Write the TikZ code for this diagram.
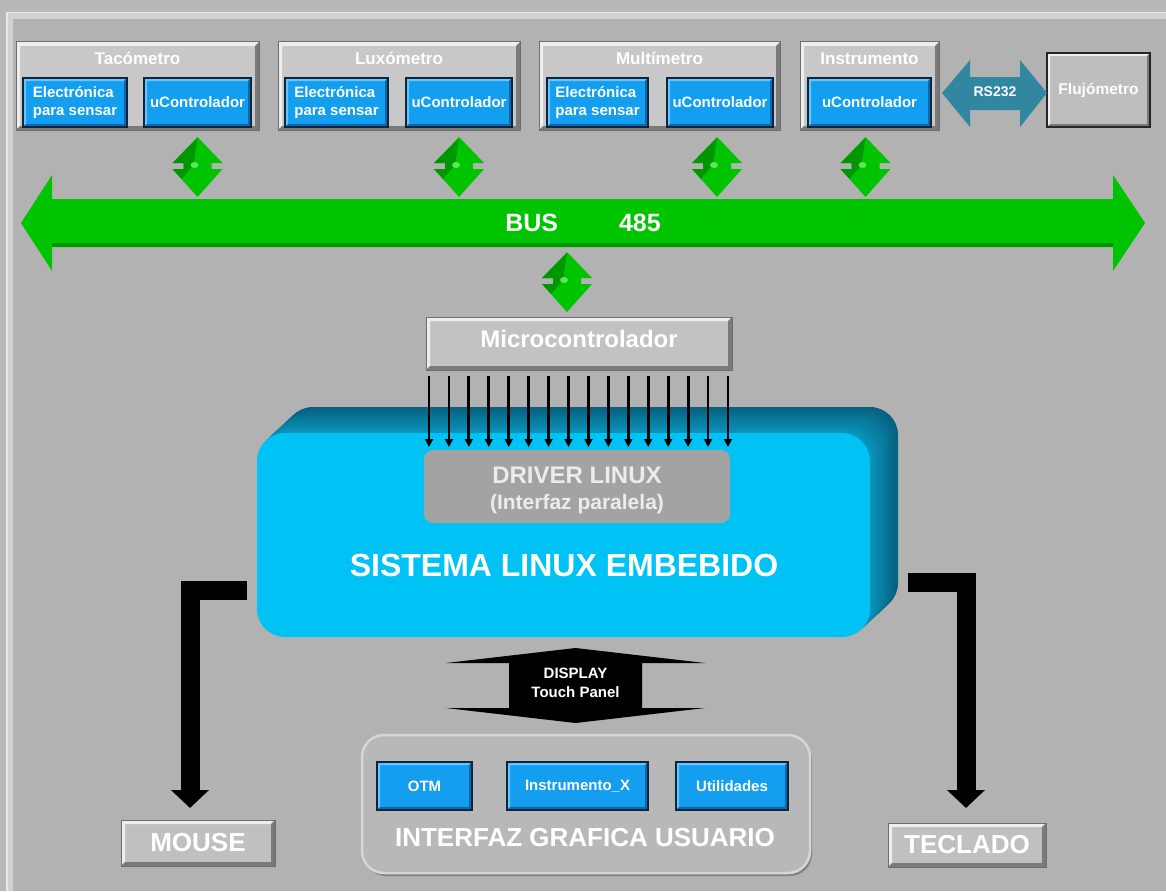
\documentclass[tikz,border=0pt]{standalone}
\usepackage{fontspec}
\setmainfont{Liberation Sans}
\usetikzlibrary{arrows.meta,calc}

\definecolor{outerbg}{RGB}{184,184,184}
\definecolor{bg}{RGB}{178,178,178}
\definecolor{framelt}{RGB}{210,210,210}
\definecolor{framehi}{RGB}{232,232,232}
\definecolor{panel}{RGB}{200,200,200}
\definecolor{panellt}{RGB}{238,238,238}
\definecolor{paneldk}{RGB}{122,122,122}
\definecolor{panelline}{RGB}{110,110,110}
\definecolor{blu}{RGB}{20,158,240}
\definecolor{blult}{RGB}{100,196,255}
\definecolor{bludk}{RGB}{8,104,180}
\definecolor{bluedge}{RGB}{16,36,56}
\definecolor{grn}{RGB}{0,196,0}
\definecolor{grndk}{RGB}{0,150,0}
\definecolor{grnlt}{RGB}{90,230,90}
\definecolor{rsteal}{RGB}{50,135,160}
\definecolor{cyanface}{RGB}{0,194,244}
\definecolor{extrA}{RGB}{6,96,126}
\definecolor{extrB}{RGB}{10,150,190}
\definecolor{drvgray}{RGB}{163,163,163}
\definecolor{drvtext}{RGB}{236,236,236}
\definecolor{guifill}{RGB}{184,184,184}
\definecolor{guiedge}{RGB}{214,214,214}
\definecolor{guishadow}{RGB}{128,128,128}

% raised frame: light band top/left, dark band bottom/right, then outline
\newcommand\bevelframe[5]{%
  \fill[#3] (#1.north west) -- (#1.north east) -- ([shift={(-#2,#2)}]#1.north east)
    -- ([shift={(#2,#2)}]#1.north west) -- ([shift={(#2,-#2)}]#1.south west) -- (#1.south west) -- cycle;
  \fill[#4] (#1.south east) -- (#1.south west) -- ([shift={(#2,-#2)}]#1.south west)
    -- ([shift={(-#2,-#2)}]#1.south east) -- ([shift={(-#2,#2)}]#1.north east) -- (#1.north east) -- cycle;
  \draw[#5] (#1.north west) rectangle (#1.south east);
}
\newcommand\bluebevel[1]{\bevelframe{#1}{3}{blult}{bludk}{draw=bluedge, line width=1.8pt}}
\newcommand\greybevel[1]{\bevelframe{#1}{4}{panellt}{paneldk}{draw=panelline, line width=1pt}}

\tikzset{
  panelbox/.style={fill=panel, inner sep=0pt, outer sep=0pt, anchor=north west},
  bluebox/.style={fill=blu, inner sep=0pt, outer sep=0pt, anchor=north west, text=white,
    font=\bfseries\fontsize{15}{17.5}\selectfont, align=center},
  ttl/.style={text=white, inner sep=0pt, font=\bfseries\fontsize{17}{20}\selectfont},
  txt/.style={text=white, inner sep=0pt, font=\bfseries\fontsize{#1}{#1}\selectfont},
  pin/.style={line width=2.8pt, -{Triangle[width=8pt,length=8pt]}, shorten <=6pt, shorten >=3pt},
  lconn/.style={line width=19pt, line join=miter, -{Triangle[width=37pt,length=18pt]}},
  gdbl/.pic={
    \fill[grn] (0,0) -- (25,26) -- (14,26) -- (14,32) -- (25,32) -- (0,60) -- (-25,32)
      -- (-14,32) -- (-14,26) -- (-25,26) -- cycle;
    \fill[grndk] (0,1) -- (-25,26) -- (-14,26) -- (-14,32) -- (-25,32) -- (-16,42) -- (-4,28) -- cycle;
    \fill[grnlt] (-3,28) ellipse (4 and 3);
  }
}

\begin{document}
\begin{tikzpicture}[x=1pt,y=-1pt]
\useasboundingbox (0,0) rectangle (1166,891);
\fill[outerbg] (0,0) rectangle (1166,891);
\fill[bg] (6,12) rectangle (1166,891);
\fill[framelt] (6,12) -- (1166,12) -- (1166,19) -- (13,19) -- (13,891) -- (6,891) -- cycle;
\draw[framehi, line width=1.5pt] (6.75,891) -- (6.75,12.75) -- (1166,12.75);

% ---------- instrument modules ----------
\node[panelbox, minimum width=243pt, minimum height=88pt] (modT) at (16,42) {};
\greybevel{modT}
\node[ttl] (ttlT) at ($(modT.north)+(0,16.5)$) {Tacómetro};
\node[bluebox, align=left, minimum width=104pt, minimum height=49pt] (tE) at (23,78) {Electrónica\\para sensar};
\bluebevel{tE}
\node[bluebox, minimum width=107pt, minimum height=49pt] (tU) at (144,78) {uControlador};
\bluebevel{tU}

\node[panelbox, minimum width=242pt, minimum height=88pt] (modL) at (278,42) {};
\greybevel{modL}
\node[ttl] (ttlL) at ($(modL.north)+(0,16.5)$) {Luxómetro};
\node[bluebox, align=left, minimum width=103pt, minimum height=49pt] (lE) at (285,78) {Electrónica\\para sensar};
\bluebevel{lE}
\node[bluebox, minimum width=106pt, minimum height=49pt] (lU) at (406,78) {uControlador};
\bluebevel{lU}

\node[panelbox, minimum width=241pt, minimum height=88pt] (modM) at (539,42) {};
\greybevel{modM}
\node[ttl] (ttlM) at ($(modM.north)+(0,16.5)$) {Multímetro};
\node[bluebox, align=left, minimum width=101pt, minimum height=49pt] (mE) at (547,78) {Electrónica\\para sensar};
\bluebevel{mE}
\node[bluebox, minimum width=106pt, minimum height=49pt] (mU) at (667,78) {uControlador};
\bluebevel{mU}

\node[panelbox, minimum width=139pt, minimum height=88pt] (modI) at (800,42) {};
\greybevel{modI}
\node[ttl] (ttlI) at ($(modI.north)+(0,16.5)$) {Instrumento};
\node[bluebox, minimum width=123pt, minimum height=49pt] (iU) at (808,78) {uControlador};
\bluebevel{iU}

% ---------- RS232 link and flow meter ----------
\node[panelbox, fill=panel!95!black, minimum width=103pt, minimum height=74pt, text=white,
  font=\bfseries\fontsize{15.5}{18}\selectfont] (flu) at (1047,53) {Flujómetro};
\bevelframe{flu}{3}{panellt}{paneldk}{draw=black!85, line width=2.2pt}
\coordinate (rsL) at ($(modI.east |- flu.west)+(3,3)$);
\coordinate (rsR) at ($(flu.west)+(0,3)$);
\fill[rsteal] (rsL) -- (970,60) -- (970,77) -- (1020,77) -- (1020,60) -- (rsR)
  -- (1020,127) -- (1020,110) -- (970,110) -- (970,127) -- cycle;
\node[txt=14] (rs) at (995,92) {RS232};

% ---------- RS-485 bus ----------
\coordinate (busL) at (21,223);
\coordinate (busR) at (1145,223);
\fill[grn] (busL) -- (52,175) -- (52,199) -- (1113,199) -- (1113,175) -- (busR)
  -- (1113,271) -- (1113,247) -- (52,247) -- (52,271) -- cycle;
\fill[grndk] (52,243) rectangle (1113,247);
\node[txt=25] (buslbl) at (583,223) {BUS\hspace{61pt}485};

\pic at ($(tU.south |- modT.south)+(0,7)$) {gdbl};
\pic at ($(lU.south |- modL.south)+(0,7)$) {gdbl};
\pic at ($(mU.south |- modM.south)+(-3,7)$) {gdbl};
\pic at ($(iU.south |- modI.south)+(-4,7)$) {gdbl};
\coordinate (drop) at (567,252);
\pic at (drop) {gdbl};

% ---------- microcontroller ----------
\node[panelbox, fill=panel!97!black, minimum width=306pt, minimum height=53pt] (micro) at (426,317) {};
\greybevel{micro}
\node[txt=24] (microlbl) at (579,339) {Microcontrolador};

% ---------- embedded Linux block (extruded) ----------
\foreach \i in {24,...,1}{
  \pgfmathtruncatemacro\pct{100*\i/24}
  \fill[extrA!\pct!extrB, rounded corners=28pt] ({257+28*\i/24},{433-26*\i/24}) rectangle ++(613,204);
}
\node[fill=cyanface, rounded corners=28pt, minimum width=613pt, minimum height=204pt,
  anchor=north west, inner sep=0pt, outer sep=0pt] (sys) at (257,433) {};
\node[txt=32] (syslbl) at (564,565) {SISTEMA LINUX EMBEBIDO};

\node[fill=drvgray, rounded corners=9pt, minimum width=306pt, minimum height=73pt,
  anchor=north west, inner sep=0pt, outer sep=0pt] (drv) at (424,450) {};
\node[txt=24, text=drvtext] (drvA) at (577,475) {DRIVER LINUX};
\node[txt=21, text=drvtext] (drvB) at (577,504) {(Interfaz paralela)};

% parallel data lines
\foreach \i in {0,...,15}{
  \coordinate (pin\i) at ({429+19.93*\i},360);
  \draw[pin] (micro.south -| pin\i) -- (drv.north -| pin\i);
}

% ---------- peripherals ----------
\node[panelbox, fill=panel!96!black, minimum width=154pt, minimum height=46pt, text=white,
  font=\bfseries\fontsize{26}{26}\selectfont] (mouse) at (121,820) {MOUSE};
\bevelframe{mouse}{4}{panellt}{paneldk}{draw=panelline, line width=1pt}
\node[panelbox, fill=panel!96!black, minimum width=158pt, minimum height=44pt, text=white,
  font=\bfseries\fontsize{26}{26}\selectfont] (tecl) at (888,823) {TECLADO};
\bevelframe{tecl}{4}{panellt}{paneldk}{draw=panelline, line width=1pt}

\coordinate (mA) at ($(sys.south west)+(-10,-46.5)$);
\coordinate (mB) at ($(mouse.north)+(-8,-12)$);
\draw[lconn] (mA) -| (mB);
\coordinate (kA) at ($(sys.south east)+(38,-55)$);
\coordinate (kB) at ($(tecl.north)+(-1,-15)$);
\draw[lconn] (kA) -| (kB);

% ---------- display / touch panel ----------
\coordinate (dc) at (575.5,685.5);
\begin{scope}[shift={(dc)}]
  \fill[black] (0,-37.5) -- (129.5,-22.5) -- (66.5,-22.5) -- (66.5,22.5) -- (129.5,22.5)
    -- (0,37.5) -- (-129.5,22.5) -- (-66.5,22.5) -- (-66.5,-22.5) -- (-129.5,-22.5) -- cycle;
\end{scope}
\node[text=white, inner sep=0pt, align=center, font=\bfseries\fontsize{15}{19}\selectfont]
  (disp) at (575.5,682.5) {DISPLAY\\Touch Panel};

% ---------- graphical user interface ----------
\fill[guishadow, rounded corners=22pt] (364,738) rectangle (812,876);
\node[fill=guifill, draw=guiedge, line width=2.5pt, rounded corners=22pt, minimum width=448pt,
  minimum height=138pt, anchor=north west, inner sep=0pt, outer sep=0pt] (gui) at (362,735) {};
\node[bluebox, minimum width=95pt, minimum height=48pt] (otm) at (377,762) {OTM};
\bluebevel{otm}
\node[bluebox, minimum width=141pt, minimum height=48pt] (ix) at (507,762) {Instrumento\_X};
\bluebevel{ix}
\node[bluebox, minimum width=112pt, minimum height=48pt] (util) at (676,762) {Utilidades};
\bluebevel{util}
\node[txt=26] (guilbl) at (585,838) {INTERFAZ GRAFICA USUARIO};
\end{tikzpicture}
\end{document}
